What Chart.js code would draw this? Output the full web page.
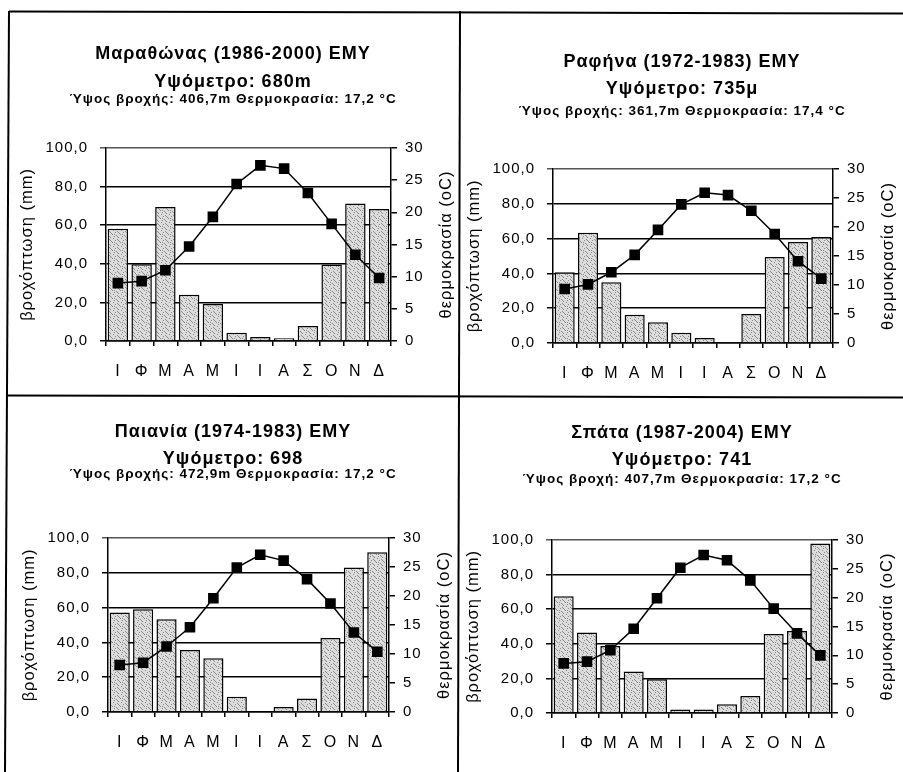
<!DOCTYPE html>
<html><head><meta charset="utf-8">
<script src="https://cdn.jsdelivr.net/npm/chart.js@4.4.1/dist/chart.umd.min.js"></script>
<style>
html,body{margin:0;padding:0;background:#fff;}
body{width:903px;height:772px;position:relative;overflow:hidden;}
canvas{position:absolute;}
svg{position:absolute;left:0;top:0;pointer-events:none;}
</style></head><body>
<canvas id="c1" width="450" height="381" style="left:8px;top:14px"></canvas>
<canvas id="c2" width="442" height="381" style="left:461px;top:14px"></canvas>
<canvas id="c3" width="450" height="374" style="left:8px;top:398px"></canvas>
<canvas id="c4" width="442" height="374" style="left:461px;top:398px"></canvas>
<svg width="903" height="772">
  <line x1="9" y1="11.5" x2="903" y2="13.5" stroke="#000" stroke-width="2"/>
  <line x1="9" y1="11" x2="5" y2="772" stroke="#000" stroke-width="2"/>
  <line x1="460" y1="11" x2="458" y2="772" stroke="#000" stroke-width="2"/>
  <line x1="7" y1="395.5" x2="903" y2="397.5" stroke="#000" stroke-width="2"/>
</svg>
<script>
// ---- data ----
const months = ['Ι','Φ','Μ','Α','Μ','Ι','Ι','Α','Σ','Ο','Ν','Δ'];

const rainMarathonas = [58.2, 39.8, 69.4, 24.0, 19.2, 4.3, 2.1, 1.4, 7.8, 39.7, 71.3, 68.4];
const tempMarathonas = [9.0, 9.3, 11.0, 14.7, 19.3, 24.4, 27.3, 26.8, 23.0, 18.2, 13.4, 9.8];

const rainRafina = [40.6, 63.4, 34.9, 16.3, 11.9, 5.9, 2.9, 0.6, 16.7, 49.4, 58.0, 60.9];
const tempRafina = [9.3, 10.1, 12.2, 15.2, 19.5, 23.9, 25.9, 25.5, 22.8, 18.8, 14.1, 11.1];

const rainPaiania = [57.2, 59.0, 53.3, 35.6, 30.9, 8.8, 0, 2.9, 7.7, 42.5, 83.0, 91.8];
const tempPaiania = [8.1, 8.5, 11.3, 14.6, 19.6, 24.9, 27.1, 26.1, 22.9, 18.7, 13.7, 10.4];

const rainSpata = [67.5, 46.5, 38.8, 24.0, 19.5, 2.0, 2.0, 5.0, 9.8, 45.7, 47.4, 98.0];
const tempSpata = [8.6, 8.9, 10.9, 14.6, 19.9, 25.2, 27.4, 26.5, 23.0, 18.1, 13.8, 10.0];

const titlesMarathonas = ['Μαραθώνας (1986-2000) ΕΜΥ', 'Υψόμετρο: 680m', 'Ύψος βροχής: 406,7m Θερμοκρασία: 17,2 °C'];
const titlesRafina = ['Ραφήνα (1972-1983) ΕΜΥ', 'Υψόμετρο: 735μ', 'Ύψος βροχής: 361,7m Θερμοκρασία: 17,4 °C'];
const titlesPaiania = ['Παιανία (1974-1983) ΕΜΥ', 'Υψόμετρο: 698', 'Ύψος βροχής: 472,9m Θερμοκρασία: 17,2 °C'];
const titlesSpata = ['Σπάτα (1987-2004) ΕΜΥ', 'Υψόμετρο: 741', 'Ύψος βροχή: 407,7m Θερμοκρασία: 17,2 °C'];

const rainAxisTitle = 'βροχόπτωση (mm)';
const tempAxisTitle = 'θερμοκρασία (oC)';

// ---- styling ----
const FAMILY = '"Liberation Sans", Arial, Helvetica, sans-serif';
Chart.defaults.font.family = FAMILY;
Chart.defaults.color = '#000';

function makePattern() {
  const c = document.createElement('canvas');
  c.width = 8; c.height = 8;
  const g = c.getContext('2d');
  g.fillStyle = '#dcdcdc';
  g.fillRect(0, 0, 8, 8);
  g.fillStyle = '#8c8c8c';
  const dots = [[1,0],[5,1],[3,2],[7,3],[0,4],[4,5],[2,6],[6,7],[6,2],[2,4],[5,6]];
  for (const [x, y] of dots) g.fillRect(x, y, 1, 1);
  return g.createPattern(c, 'repeat');
}
const barFill = makePattern();

// the scanned original has slightly wide lettering
const spacingPlugin = {
  id: 'spacing',
  beforeDraw(chart) { chart.ctx.letterSpacing = '1px'; }
};

const rightTitlePlugin = {
  id: 'rightTitle',
  afterDraw(chart) {
    const {ctx, chartArea} = chart;
    ctx.save();
    ctx.letterSpacing = '1px';
    ctx.translate(chartArea.right + 55, (chartArea.top + chartArea.bottom) / 2);
    ctx.rotate(-Math.PI / 2);
    ctx.textAlign = 'center';
    ctx.textBaseline = 'middle';
    ctx.fillStyle = '#000';
    ctx.font = '16.5px ' + FAMILY;
    ctx.fillText(tempAxisTitle, 0, 0);
    ctx.restore();
  }
};

function makeChart(canvasId, rain, temp, titles, box, ty) {
  const canvas = document.getElementById(canvasId);
  const W = canvas.width, H = canvas.height;
  const lh1 = ty[1] - ty[0];
  const tPadTop = ty[0] - lh1 / 2;
  const tEnd = tPadTop + 2 * lh1;
  const sLH = 16;
  const sPadTop = ty[2] - sLH / 2 - tEnd;
  const sPadBottom = box.top - tEnd - sPadTop - sLH;
  return new Chart(canvas, {
    data: {
      labels: months,
      datasets: [
        {
          type: 'line', data: temp, yAxisID: 'y1', order: 0,
          borderColor: '#000', borderWidth: 1.5, tension: 0,
          pointStyle: 'rect', pointRadius: 7.5, pointBackgroundColor: '#000',
          pointBorderColor: '#000', pointBorderWidth: 0
        },
        {
          type: 'bar', data: rain, yAxisID: 'y', order: 1,
          backgroundColor: barFill, borderColor: '#000', borderWidth: 1.5,
          barPercentage: 0.86, categoryPercentage: 1
        }
      ]
    },
    options: {
      responsive: false, animation: false, devicePixelRatio: 1,
      layout: {padding: 0},
      plugins: {
        legend: {display: false},
        tooltip: {enabled: false},
        title: {
          display: true, text: [titles[0], titles[1]], color: '#000',
          font: {size: 18, weight: 'bold', lineHeight: lh1 + 'px'},
          padding: {top: tPadTop, bottom: 0}
        },
        subtitle: {
          display: true, text: titles[2], color: '#000',
          font: {size: 13.5, weight: 'bold', lineHeight: sLH + 'px'},
          padding: {top: sPadTop, bottom: sPadBottom}
        }
      },
      scales: {
        x: {
          grid: {display: true, drawOnChartArea: false, drawTicks: true, tickLength: 5, color: '#000', lineWidth: 1.5, offset: true},
          border: {display: true, color: '#000', width: 1.5},
          ticks: {font: {size: 16}, color: '#000', padding: 16, maxRotation: 0, autoSkip: false},
          afterFit: s => { s.height = H - box.bottom; }
        },
        y: {
          position: 'left', min: 0, max: 100,
          ticks: {stepSize: 20, font: {size: 15}, color: '#000', padding: 12,
                  callback: v => v.toFixed(1).replace('.', ',')},
          grid: {color: c => (c.tick && c.tick.value === 100) ? '#555' : '#000', lineWidth: 1.5, tickLength: 6},
          border: {display: true, color: '#000', width: 1.5},
          title: {display: true, text: rainAxisTitle, color: '#000', font: {size: 16.5},
                  padding: {top: box.left - 79 - 9.9, bottom: 0}},
          afterFit: s => { s.width = box.left; }
        },
        y1: {
          position: 'right', min: 0, max: 30,
          ticks: {stepSize: 5, font: {size: 15}, color: '#000', padding: 8},
          grid: {drawOnChartArea: false, tickLength: 6, color: '#000', lineWidth: 1.5},
          border: {display: true, color: '#000', width: 1.5},
          afterFit: s => { s.width = W - box.right; }
        }
      }
    },
    plugins: [spacingPlugin, rightTitlePlugin]
  });
}

makeChart('c1', rainMarathonas, tempMarathonas, titlesMarathonas,
  {left: 98, right: 383, top: 134, bottom: 327}, [40.3, 67.7, 85]);
makeChart('c2', rainRafina, tempRafina, titlesRafina,
  {left: 92, right: 372, top: 155, bottom: 329}, [47.7, 75.3, 97.7]);
makeChart('c3', rainPaiania, tempPaiania, titlesPaiania,
  {left: 100, right: 381, top: 140, bottom: 314}, [34, 61, 76.5]);
makeChart('c4', rainSpata, tempSpata, titlesSpata,
  {left: 91, right: 371, top: 142, bottom: 315}, [35, 62, 81]);
</script>
</body></html>
